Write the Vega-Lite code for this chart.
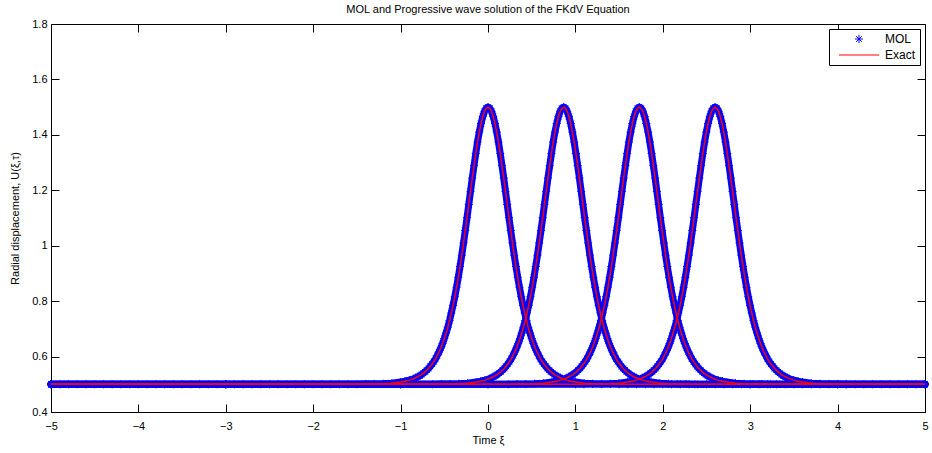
{
"$schema":"https://vega.github.io/schema/vega-lite/v6.json",
"width":874,"height":388,"autosize":"none",
"padding":{"left":51,"top":24,"right":7,"bottom":41},
"background":"white",
"config":{"view":{"stroke":"black","strokeWidth":1},"font":"Liberation Sans","axis":{"grid":false,"domain":false,"tickColor":"black","tickSize":-8,"labelColor":"black","labelFontSize":11,"labelFlush":false,"labelOverlap":false,"titleFontSize":11,"titleFontWeight":"normal","titleColor":"black"}},
"title":{"text":"MOL and Progressive wave solution of the FKdV Equation","fontSize":11,"fontWeight":"normal","anchor":"middle","offset":3,"color":"black"},
"data":{"values":[
{"k":0,"x":-5,"u":0.5},{"k":0,"x":-4.9,"u":0.5},{"k":0,"x":-4.8,"u":0.5},{"k":0,"x":-4.7,"u":0.5},{"k":0,"x":-4.6,"u":0.5},{"k":0,"x":-4.5,"u":0.5},{"k":0,"x":-4.4,"u":0.5},{"k":0,"x":-4.3,"u":0.5},{"k":0,"x":-4.2,"u":0.5},{"k":0,"x":-4.1,"u":0.5},{"k":0,"x":-4,"u":0.5},{"k":0,"x":-3.9,"u":0.5},{"k":0,"x":-3.8,"u":0.5},{"k":0,"x":-3.7,"u":0.5},{"k":0,"x":-3.6,"u":0.5},{"k":0,"x":-3.5,"u":0.5},{"k":0,"x":-3.4,"u":0.5},{"k":0,"x":-3.3,"u":0.5},{"k":0,"x":-3.2,"u":0.5},{"k":0,"x":-3.1,"u":0.5},{"k":0,"x":-3,"u":0.5},{"k":0,"x":-2.9,"u":0.5},{"k":0,"x":-2.8,"u":0.5},{"k":0,"x":-2.7,"u":0.5},{"k":0,"x":-2.6,"u":0.5},{"k":0,"x":-2.5,"u":0.5},{"k":0,"x":-2.4,"u":0.5},{"k":0,"x":-2.3,"u":0.5},{"k":0,"x":-2.2,"u":0.5},{"k":0,"x":-2.1,"u":0.5},{"k":0,"x":-2,"u":0.5},{"k":0,"x":-1.9,"u":0.5},{"k":0,"x":-1.8,"u":0.5},{"k":0,"x":-1.7,"u":0.5},{"k":0,"x":-1.6,"u":0.5},
{"k":0,"x":-1.5,"u":0.5},{"k":0,"x":-1.4,"u":0.501},{"k":0,"x":-1.3,"u":0.501},{"k":0,"x":-1.2,"u":0.502},{"k":0,"x":-1.1,"u":0.504},{"k":0,"x":-1,"u":0.508},{"k":0,"x":-0.95,"u":0.511},{"k":0,"x":-0.9,"u":0.515},{"k":0,"x":-0.85,"u":0.52},{"k":0,"x":-0.8,"u":0.528},{"k":0,"x":-0.78,"u":0.531},{"k":0,"x":-0.76,"u":0.535},{"k":0,"x":-0.74,"u":0.54},{"k":0,"x":-0.72,"u":0.545},{"k":0,"x":-0.7,"u":0.551},{"k":0,"x":-0.68,"u":0.557},{"k":0,"x":-0.66,"u":0.565},{"k":0,"x":-0.64,"u":0.573},{"k":0,"x":-0.62,"u":0.582},{"k":0,"x":-0.6,"u":0.592},{"k":0,"x":-0.58,"u":0.604},{"k":0,"x":-0.56,"u":0.617},{"k":0,"x":-0.54,"u":0.631},{"k":0,"x":-0.52,"u":0.647},{"k":0,"x":-0.5,"u":0.665},{"k":0,"x":-0.48,"u":0.685},{"k":0,"x":-0.46,"u":0.706},{"k":0,"x":-0.44,"u":0.73},{"k":0,"x":-0.42,"u":0.757},{"k":0,"x":-0.4,"u":0.785},{"k":0,"x":-0.38,"u":0.816},{"k":0,"x":-0.36,"u":0.85},{"k":0,"x":-0.34,"u":0.886},{"k":0,"x":-0.32,"u":0.925},{"k":0,"x":-0.3,"u":0.966},{"k":0,"x":-0.28,"u":1.01},{"k":0,"x":-0.26,"u":1.055},{"k":0,"x":-0.24,"u":1.101},{"k":0,"x":-0.22,"u":1.149},{"k":0,"x":-0.2,"u":1.196},{"k":0,"x":-0.18,"u":1.244},{"k":0,"x":-0.16,"u":1.289},{"k":0,"x":-0.14,"u":1.333},{"k":0,"x":-0.12,"u":1.374},{"k":0,"x":-0.1,"u":1.41},{"k":0,"x":-0.08,"u":1.441},{"k":0,"x":-0.06,"u":1.466},{"k":0,"x":-0.04,"u":1.485},{"k":0,"x":-0.02,"u":1.496},{"k":0,"x":0,"u":1.5},
{"k":0,"x":0.02,"u":1.496},{"k":0,"x":0.04,"u":1.485},{"k":0,"x":0.06,"u":1.466},{"k":0,"x":0.08,"u":1.441},{"k":0,"x":0.1,"u":1.41},{"k":0,"x":0.12,"u":1.374},{"k":0,"x":0.14,"u":1.333},{"k":0,"x":0.16,"u":1.289},{"k":0,"x":0.18,"u":1.244},{"k":0,"x":0.2,"u":1.196},{"k":0,"x":0.22,"u":1.149},{"k":0,"x":0.24,"u":1.101},{"k":0,"x":0.26,"u":1.055},{"k":0,"x":0.28,"u":1.01},{"k":0,"x":0.3,"u":0.966},{"k":0,"x":0.32,"u":0.925},{"k":0,"x":0.34,"u":0.886},{"k":0,"x":0.36,"u":0.85},{"k":0,"x":0.38,"u":0.816},{"k":0,"x":0.4,"u":0.785},{"k":0,"x":0.42,"u":0.757},{"k":0,"x":0.44,"u":0.73},{"k":0,"x":0.46,"u":0.706},{"k":0,"x":0.48,"u":0.685},{"k":0,"x":0.5,"u":0.665},{"k":0,"x":0.52,"u":0.647},{"k":0,"x":0.54,"u":0.631},{"k":0,"x":0.56,"u":0.617},{"k":0,"x":0.58,"u":0.604},{"k":0,"x":0.6,"u":0.592},{"k":0,"x":0.62,"u":0.582},{"k":0,"x":0.64,"u":0.573},{"k":0,"x":0.66,"u":0.565},{"k":0,"x":0.68,"u":0.557},{"k":0,"x":0.7,"u":0.551},{"k":0,"x":0.72,"u":0.545},{"k":0,"x":0.74,"u":0.54},{"k":0,"x":0.76,"u":0.535},{"k":0,"x":0.78,"u":0.531},{"k":0,"x":0.8,"u":0.528},{"k":0,"x":0.85,"u":0.52},{"k":0,"x":0.9,"u":0.515},{"k":0,"x":0.95,"u":0.511},{"k":0,"x":1,"u":0.508},{"k":0,"x":1.1,"u":0.504},{"k":0,"x":1.2,"u":0.502},{"k":0,"x":1.3,"u":0.501},{"k":0,"x":1.4,"u":0.501},{"k":0,"x":1.5,"u":0.5},
{"k":0,"x":1.6,"u":0.5},{"k":0,"x":1.7,"u":0.5},{"k":0,"x":1.8,"u":0.5},{"k":0,"x":1.9,"u":0.5},{"k":0,"x":2,"u":0.5},{"k":0,"x":2.1,"u":0.5},{"k":0,"x":2.2,"u":0.5},{"k":0,"x":2.3,"u":0.5},{"k":0,"x":2.4,"u":0.5},{"k":0,"x":2.5,"u":0.5},{"k":0,"x":2.6,"u":0.5},{"k":0,"x":2.7,"u":0.5},{"k":0,"x":2.8,"u":0.5},{"k":0,"x":2.9,"u":0.5},{"k":0,"x":3,"u":0.5},{"k":0,"x":3.1,"u":0.5},{"k":0,"x":3.2,"u":0.5},{"k":0,"x":3.3,"u":0.5},{"k":0,"x":3.4,"u":0.5},{"k":0,"x":3.5,"u":0.5},{"k":0,"x":3.6,"u":0.5},{"k":0,"x":3.7,"u":0.5},{"k":0,"x":3.8,"u":0.5},{"k":0,"x":3.9,"u":0.5},{"k":0,"x":4,"u":0.5},{"k":0,"x":4.1,"u":0.5},{"k":0,"x":4.2,"u":0.5},{"k":0,"x":4.3,"u":0.5},{"k":0,"x":4.4,"u":0.5},{"k":0,"x":4.5,"u":0.5},{"k":0,"x":4.6,"u":0.5},{"k":0,"x":4.7,"u":0.5},{"k":0,"x":4.8,"u":0.5},{"k":0,"x":4.9,"u":0.5},{"k":0,"x":5,"u":0.5},
{"k":1,"x":-5,"u":0.5},{"k":1,"x":-3,"u":0.5},{"k":1,"x":-1,"u":0.5},
{"k":1,"x":-0.634,"u":0.5},{"k":1,"x":-0.534,"u":0.501},{"k":1,"x":-0.434,"u":0.501},{"k":1,"x":-0.334,"u":0.502},{"k":1,"x":-0.234,"u":0.504},{"k":1,"x":-0.134,"u":0.508},{"k":1,"x":-0.084,"u":0.511},{"k":1,"x":-0.034,"u":0.515},{"k":1,"x":0.016,"u":0.52},{"k":1,"x":0.066,"u":0.528},{"k":1,"x":0.086,"u":0.531},{"k":1,"x":0.106,"u":0.535},{"k":1,"x":0.126,"u":0.54},{"k":1,"x":0.146,"u":0.545},{"k":1,"x":0.166,"u":0.551},{"k":1,"x":0.186,"u":0.557},{"k":1,"x":0.206,"u":0.565},{"k":1,"x":0.226,"u":0.573},{"k":1,"x":0.246,"u":0.582},{"k":1,"x":0.266,"u":0.592},{"k":1,"x":0.286,"u":0.604},{"k":1,"x":0.306,"u":0.617},{"k":1,"x":0.326,"u":0.631},{"k":1,"x":0.346,"u":0.647},{"k":1,"x":0.366,"u":0.665},{"k":1,"x":0.386,"u":0.685},{"k":1,"x":0.406,"u":0.706},{"k":1,"x":0.426,"u":0.73},{"k":1,"x":0.446,"u":0.757},{"k":1,"x":0.466,"u":0.785},{"k":1,"x":0.486,"u":0.816},{"k":1,"x":0.506,"u":0.85},{"k":1,"x":0.526,"u":0.886},{"k":1,"x":0.546,"u":0.925},{"k":1,"x":0.566,"u":0.966},{"k":1,"x":0.586,"u":1.01},{"k":1,"x":0.606,"u":1.055},{"k":1,"x":0.626,"u":1.101},{"k":1,"x":0.646,"u":1.149},{"k":1,"x":0.666,"u":1.196},{"k":1,"x":0.686,"u":1.244},{"k":1,"x":0.706,"u":1.289},{"k":1,"x":0.726,"u":1.333},{"k":1,"x":0.746,"u":1.374},{"k":1,"x":0.766,"u":1.41},{"k":1,"x":0.786,"u":1.441},{"k":1,"x":0.806,"u":1.466},{"k":1,"x":0.826,"u":1.485},{"k":1,"x":0.846,"u":1.496},{"k":1,"x":0.866,"u":1.5},
{"k":1,"x":0.886,"u":1.496},{"k":1,"x":0.906,"u":1.485},{"k":1,"x":0.926,"u":1.466},{"k":1,"x":0.946,"u":1.441},{"k":1,"x":0.966,"u":1.41},{"k":1,"x":0.986,"u":1.374},{"k":1,"x":1.006,"u":1.333},{"k":1,"x":1.026,"u":1.289},{"k":1,"x":1.046,"u":1.244},{"k":1,"x":1.066,"u":1.196},{"k":1,"x":1.086,"u":1.149},{"k":1,"x":1.106,"u":1.101},{"k":1,"x":1.126,"u":1.055},{"k":1,"x":1.146,"u":1.01},{"k":1,"x":1.166,"u":0.966},{"k":1,"x":1.186,"u":0.925},{"k":1,"x":1.206,"u":0.886},{"k":1,"x":1.226,"u":0.85},{"k":1,"x":1.246,"u":0.816},{"k":1,"x":1.266,"u":0.785},{"k":1,"x":1.286,"u":0.757},{"k":1,"x":1.306,"u":0.73},{"k":1,"x":1.326,"u":0.706},{"k":1,"x":1.346,"u":0.685},{"k":1,"x":1.366,"u":0.665},{"k":1,"x":1.386,"u":0.647},{"k":1,"x":1.406,"u":0.631},{"k":1,"x":1.426,"u":0.617},{"k":1,"x":1.446,"u":0.604},{"k":1,"x":1.466,"u":0.592},{"k":1,"x":1.486,"u":0.582},{"k":1,"x":1.506,"u":0.573},{"k":1,"x":1.526,"u":0.565},{"k":1,"x":1.546,"u":0.557},{"k":1,"x":1.566,"u":0.551},{"k":1,"x":1.586,"u":0.545},{"k":1,"x":1.606,"u":0.54},{"k":1,"x":1.626,"u":0.535},{"k":1,"x":1.646,"u":0.531},{"k":1,"x":1.666,"u":0.528},{"k":1,"x":1.716,"u":0.52},{"k":1,"x":1.766,"u":0.515},{"k":1,"x":1.816,"u":0.511},{"k":1,"x":1.866,"u":0.508},{"k":1,"x":1.966,"u":0.504},{"k":1,"x":2.066,"u":0.502},{"k":1,"x":2.166,"u":0.501},{"k":1,"x":2.266,"u":0.501},{"k":1,"x":2.366,"u":0.5},
{"k":1,"x":3,"u":0.5},{"k":1,"x":5,"u":0.5},
{"k":2,"x":-5,"u":0.5},{"k":2,"x":-3,"u":0.5},{"k":2,"x":-1,"u":0.5},{"k":2,"x":0,"u":0.5},
{"k":2,"x":0.232,"u":0.5},{"k":2,"x":0.332,"u":0.501},{"k":2,"x":0.432,"u":0.501},{"k":2,"x":0.532,"u":0.502},{"k":2,"x":0.632,"u":0.504},{"k":2,"x":0.732,"u":0.508},{"k":2,"x":0.782,"u":0.511},{"k":2,"x":0.832,"u":0.515},{"k":2,"x":0.882,"u":0.52},{"k":2,"x":0.932,"u":0.528},{"k":2,"x":0.952,"u":0.531},{"k":2,"x":0.972,"u":0.535},{"k":2,"x":0.992,"u":0.54},{"k":2,"x":1.012,"u":0.545},{"k":2,"x":1.032,"u":0.551},{"k":2,"x":1.052,"u":0.557},{"k":2,"x":1.072,"u":0.565},{"k":2,"x":1.092,"u":0.573},{"k":2,"x":1.112,"u":0.582},{"k":2,"x":1.132,"u":0.592},{"k":2,"x":1.152,"u":0.604},{"k":2,"x":1.172,"u":0.617},{"k":2,"x":1.192,"u":0.631},{"k":2,"x":1.212,"u":0.647},{"k":2,"x":1.232,"u":0.665},{"k":2,"x":1.252,"u":0.685},{"k":2,"x":1.272,"u":0.706},{"k":2,"x":1.292,"u":0.73},{"k":2,"x":1.312,"u":0.757},{"k":2,"x":1.332,"u":0.785},{"k":2,"x":1.352,"u":0.816},{"k":2,"x":1.372,"u":0.85},{"k":2,"x":1.392,"u":0.886},{"k":2,"x":1.412,"u":0.925},{"k":2,"x":1.432,"u":0.966},{"k":2,"x":1.452,"u":1.01},{"k":2,"x":1.472,"u":1.055},{"k":2,"x":1.492,"u":1.101},{"k":2,"x":1.512,"u":1.149},{"k":2,"x":1.532,"u":1.196},{"k":2,"x":1.552,"u":1.244},{"k":2,"x":1.572,"u":1.289},{"k":2,"x":1.592,"u":1.333},{"k":2,"x":1.612,"u":1.374},{"k":2,"x":1.632,"u":1.41},{"k":2,"x":1.652,"u":1.441},{"k":2,"x":1.672,"u":1.466},{"k":2,"x":1.692,"u":1.485},{"k":2,"x":1.712,"u":1.496},{"k":2,"x":1.732,"u":1.5},
{"k":2,"x":1.752,"u":1.496},{"k":2,"x":1.772,"u":1.485},{"k":2,"x":1.792,"u":1.466},{"k":2,"x":1.812,"u":1.441},{"k":2,"x":1.832,"u":1.41},{"k":2,"x":1.852,"u":1.374},{"k":2,"x":1.872,"u":1.333},{"k":2,"x":1.892,"u":1.289},{"k":2,"x":1.912,"u":1.244},{"k":2,"x":1.932,"u":1.196},{"k":2,"x":1.952,"u":1.149},{"k":2,"x":1.972,"u":1.101},{"k":2,"x":1.992,"u":1.055},{"k":2,"x":2.012,"u":1.01},{"k":2,"x":2.032,"u":0.966},{"k":2,"x":2.052,"u":0.925},{"k":2,"x":2.072,"u":0.886},{"k":2,"x":2.092,"u":0.85},{"k":2,"x":2.112,"u":0.816},{"k":2,"x":2.132,"u":0.785},{"k":2,"x":2.152,"u":0.757},{"k":2,"x":2.172,"u":0.73},{"k":2,"x":2.192,"u":0.706},{"k":2,"x":2.212,"u":0.685},{"k":2,"x":2.232,"u":0.665},{"k":2,"x":2.252,"u":0.647},{"k":2,"x":2.272,"u":0.631},{"k":2,"x":2.292,"u":0.617},{"k":2,"x":2.312,"u":0.604},{"k":2,"x":2.332,"u":0.592},{"k":2,"x":2.352,"u":0.582},{"k":2,"x":2.372,"u":0.573},{"k":2,"x":2.392,"u":0.565},{"k":2,"x":2.412,"u":0.557},{"k":2,"x":2.432,"u":0.551},{"k":2,"x":2.452,"u":0.545},{"k":2,"x":2.472,"u":0.54},{"k":2,"x":2.492,"u":0.535},{"k":2,"x":2.512,"u":0.531},{"k":2,"x":2.532,"u":0.528},{"k":2,"x":2.582,"u":0.52},{"k":2,"x":2.632,"u":0.515},{"k":2,"x":2.682,"u":0.511},{"k":2,"x":2.732,"u":0.508},{"k":2,"x":2.832,"u":0.504},{"k":2,"x":2.932,"u":0.502},{"k":2,"x":3.032,"u":0.501},{"k":2,"x":3.132,"u":0.501},{"k":2,"x":3.232,"u":0.5},
{"k":2,"x":4,"u":0.5},{"k":2,"x":5,"u":0.5},
{"k":3,"x":-5,"u":0.5},{"k":3,"x":-3,"u":0.5},{"k":3,"x":-1,"u":0.5},{"k":3,"x":0,"u":0.5},{"k":3,"x":1,"u":0.5},
{"k":3,"x":1.098,"u":0.5},{"k":3,"x":1.198,"u":0.501},{"k":3,"x":1.298,"u":0.501},{"k":3,"x":1.398,"u":0.502},{"k":3,"x":1.498,"u":0.504},{"k":3,"x":1.598,"u":0.508},{"k":3,"x":1.648,"u":0.511},{"k":3,"x":1.698,"u":0.515},{"k":3,"x":1.748,"u":0.52},{"k":3,"x":1.798,"u":0.528},{"k":3,"x":1.818,"u":0.531},{"k":3,"x":1.838,"u":0.535},{"k":3,"x":1.858,"u":0.54},{"k":3,"x":1.878,"u":0.545},{"k":3,"x":1.898,"u":0.551},{"k":3,"x":1.918,"u":0.557},{"k":3,"x":1.938,"u":0.565},{"k":3,"x":1.958,"u":0.573},{"k":3,"x":1.978,"u":0.582},{"k":3,"x":1.998,"u":0.592},{"k":3,"x":2.018,"u":0.604},{"k":3,"x":2.038,"u":0.617},{"k":3,"x":2.058,"u":0.631},{"k":3,"x":2.078,"u":0.647},{"k":3,"x":2.098,"u":0.665},{"k":3,"x":2.118,"u":0.685},{"k":3,"x":2.138,"u":0.706},{"k":3,"x":2.158,"u":0.73},{"k":3,"x":2.178,"u":0.757},{"k":3,"x":2.198,"u":0.785},{"k":3,"x":2.218,"u":0.816},{"k":3,"x":2.238,"u":0.85},{"k":3,"x":2.258,"u":0.886},{"k":3,"x":2.278,"u":0.925},{"k":3,"x":2.298,"u":0.966},{"k":3,"x":2.318,"u":1.01},{"k":3,"x":2.338,"u":1.055},{"k":3,"x":2.358,"u":1.101},{"k":3,"x":2.378,"u":1.149},{"k":3,"x":2.398,"u":1.196},{"k":3,"x":2.418,"u":1.244},{"k":3,"x":2.438,"u":1.289},{"k":3,"x":2.458,"u":1.333},{"k":3,"x":2.478,"u":1.374},{"k":3,"x":2.498,"u":1.41},{"k":3,"x":2.518,"u":1.441},{"k":3,"x":2.538,"u":1.466},{"k":3,"x":2.558,"u":1.485},{"k":3,"x":2.578,"u":1.496},{"k":3,"x":2.598,"u":1.5},
{"k":3,"x":2.618,"u":1.496},{"k":3,"x":2.638,"u":1.485},{"k":3,"x":2.658,"u":1.466},{"k":3,"x":2.678,"u":1.441},{"k":3,"x":2.698,"u":1.41},{"k":3,"x":2.718,"u":1.374},{"k":3,"x":2.738,"u":1.333},{"k":3,"x":2.758,"u":1.289},{"k":3,"x":2.778,"u":1.244},{"k":3,"x":2.798,"u":1.196},{"k":3,"x":2.818,"u":1.149},{"k":3,"x":2.838,"u":1.101},{"k":3,"x":2.858,"u":1.055},{"k":3,"x":2.878,"u":1.01},{"k":3,"x":2.898,"u":0.966},{"k":3,"x":2.918,"u":0.925},{"k":3,"x":2.938,"u":0.886},{"k":3,"x":2.958,"u":0.85},{"k":3,"x":2.978,"u":0.816},{"k":3,"x":2.998,"u":0.785},{"k":3,"x":3.018,"u":0.757},{"k":3,"x":3.038,"u":0.73},{"k":3,"x":3.058,"u":0.706},{"k":3,"x":3.078,"u":0.685},{"k":3,"x":3.098,"u":0.665},{"k":3,"x":3.118,"u":0.647},{"k":3,"x":3.138,"u":0.631},{"k":3,"x":3.158,"u":0.617},{"k":3,"x":3.178,"u":0.604},{"k":3,"x":3.198,"u":0.592},{"k":3,"x":3.218,"u":0.582},{"k":3,"x":3.238,"u":0.573},{"k":3,"x":3.258,"u":0.565},{"k":3,"x":3.278,"u":0.557},{"k":3,"x":3.298,"u":0.551},{"k":3,"x":3.318,"u":0.545},{"k":3,"x":3.338,"u":0.54},{"k":3,"x":3.358,"u":0.535},{"k":3,"x":3.378,"u":0.531},{"k":3,"x":3.398,"u":0.528},{"k":3,"x":3.448,"u":0.52},{"k":3,"x":3.498,"u":0.515},{"k":3,"x":3.548,"u":0.511},{"k":3,"x":3.598,"u":0.508},{"k":3,"x":3.698,"u":0.504},{"k":3,"x":3.798,"u":0.502},{"k":3,"x":3.898,"u":0.501},{"k":3,"x":3.998,"u":0.501},{"k":3,"x":4.098,"u":0.5},
{"k":3,"x":5,"u":0.5}
]},
"layer":[
{"mark":{"type":"line","color":"#0000ff","strokeWidth":7,"strokeJoin":"round","strokeCap":"round"},
 "encoding":{
  "x":{"field":"x","type":"quantitative","scale":{"domain":[-5,5],"nice":false,"zero":false},"axis":{"values":[-5,-4,-3,-2,-1,0,1,2,3,4,5],"format":"~g","labelPadding":16,"title":"Time ξ","titlePadding":3}},
  "y":{"field":"u","type":"quantitative","scale":{"domain":[0.4,1.8],"nice":false,"zero":false},"axis":{"values":[0.4,0.6,0.8,1,1.2,1.4,1.6,1.8],"format":"~g","labelPadding":12,"title":"Radial displacement, U(ξ,τ)","titlePadding":11}},
  "detail":{"field":"k","type":"nominal"}}},
{"mark":{"type":"point","filled":false,"strokeWidth":1,"size":64,"opacity":1},
 "encoding":{
  "x":{"field":"x","type":"quantitative","scale":{"domain":[-5,5],"nice":false,"zero":false},"axis":null},
  "y":{"field":"u","type":"quantitative","scale":{"domain":[0.4,1.8],"nice":false,"zero":false},"axis":null},
  "color":{"datum":"MOL","scale":{"domain":["MOL","Exact"],"range":["#0000ff","#ff0000"]},
   "legend":{"title":null,"orient":"top-right","offset":5,"strokeColor":"black","fillColor":"white","padding":4,"labelFontSize":12,"labelColor":"black","symbolSize":64,"symbolStrokeWidth":1,"symbolOffset":20,"labelOffset":20,"rowPadding":4}},
  "shape":{"datum":"MOL","scale":{"domain":["MOL","Exact"],"range":["M-1,0L1,0M0,-1L0,1M-0.7,-0.7L0.7,0.7M-0.7,0.7L0.7,-0.7","M-5,0L5,0"]},
   "legend":{"title":null,"orient":"top-right","offset":5,"strokeColor":"black","fillColor":"white","padding":4,"labelFontSize":12,"labelColor":"black","symbolSize":64,"symbolStrokeWidth":1,"symbolOffset":20,"labelOffset":20,"rowPadding":4}}}},
{"mark":{"type":"line","color":"#ff0000","strokeWidth":1.5},
 "encoding":{
  "x":{"field":"x","type":"quantitative","scale":{"domain":[-5,5],"nice":false,"zero":false},"axis":null},
  "y":{"field":"u","type":"quantitative","scale":{"domain":[0.4,1.8],"nice":false,"zero":false},"axis":null},
  "detail":{"field":"k","type":"nominal"}}},
{"mark":{"type":"point","opacity":0},
 "encoding":{
  "x":{"field":"x","type":"quantitative","scale":{"domain":[-5,5],"nice":false,"zero":false},"axis":{"orient":"top","values":[-5,-4,-3,-2,-1,0,1,2,3,4,5],"labels":false,"title":null}},
  "y":{"field":"u","type":"quantitative","scale":{"domain":[0.4,1.8],"nice":false,"zero":false},"axis":{"orient":"right","values":[0.4,0.6,0.8,1,1.2,1.4,1.6,1.8],"labels":false,"title":null}}}}
],
"resolve":{"scale":{"x":"independent","y":"independent"},"axis":{"x":"independent","y":"independent"}}
}
